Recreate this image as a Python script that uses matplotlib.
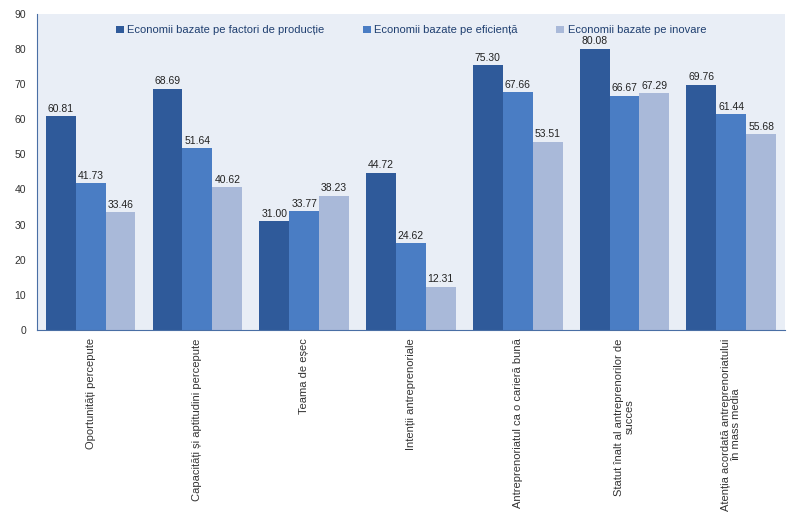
import matplotlib
matplotlib.use("Agg")
import matplotlib.pyplot as plt
import numpy as np

plt.rcParams["font.family"] = ["Liberation Sans", "DejaVu Sans"]

categories = [
    "Oportunități percepute",
    "Capacități și aptitudini percepute",
    "Teama de eșec",
    "Intenții antreprenoriale",
    "Antreprenoriatul ca o carieră bună",
    "Statut înalt al antreprenorilor de\nsucces",
    "Atenția acordată antreprenoriatului\nîn mass media",
]
series_names = [
    "Economii bazate pe factori de producție",
    "Economii bazate pe eficiență",
    "Economii bazate pe inovare",
]
factori = [60.81, 68.69, 31.00, 44.72, 75.30, 80.08, 69.76]
eficienta = [41.73, 51.64, 33.77, 24.62, 67.66, 66.67, 61.44]
inovare = [33.46, 40.62, 38.23, 12.31, 53.51, 67.29, 55.68]
colors = ["#2f5a9a", "#4a7dc4", "#a9b9d9"]

fig = plt.figure(figsize=(7.91, 5.27), dpi=100)
ax = fig.add_axes([0.047, 0.374, 0.945, 0.6])
ax.set_facecolor("#e9eef6")

x = np.arange(len(categories))
w = 0.28
for i, (vals, c, name) in enumerate(zip([factori, eficienta, inovare], colors, series_names)):
    pos = x + (i - 1) * w
    bars = ax.bar(pos, vals, width=w, color=c, label=name, zorder=2)
    for b, v in zip(bars, vals):
        ax.text(b.get_x() + b.get_width() / 2, v + 0.7, f"{v:.2f}", ha="center", va="bottom",
                fontsize=7.5, color="#222222", zorder=3)

ax.set_xlim(-0.5, len(categories) - 0.5)
ax.set_ylim(0, 90)
ax.set_yticks(range(0, 91, 10))
ax.tick_params(axis="y", labelsize=7.5, length=0, colors="#333333", pad=8)
ax.set_xticks(x)
ax.set_xticklabels(categories, rotation=90, fontsize=8, color="#333333", va="top", ha="center",
                   linespacing=1.0)
ax.tick_params(axis="x", length=0, pad=6)
for s in ["top", "right"]:
    ax.spines[s].set_visible(False)
ax.spines["left"].set_color("#4a6fa5")
ax.spines["bottom"].set_color("#4a6fa5")

ax.legend(loc="upper center", ncol=3, fontsize=8, frameon=False, bbox_to_anchor=(0.5, 0.995),
          handlelength=0.7, handleheight=0.7, columnspacing=3.5, handletextpad=0.3,
          labelcolor="#1f3f70")

fig.savefig("out.png", dpi=100, facecolor="white")
